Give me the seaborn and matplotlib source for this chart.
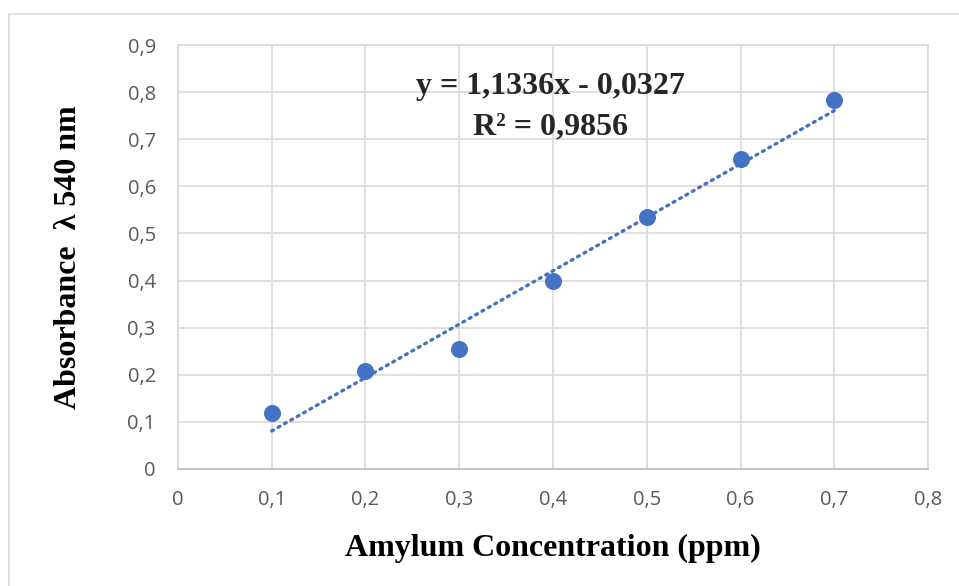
import numpy as np
import matplotlib
matplotlib.use("Agg")
import matplotlib.pyplot as plt
import seaborn as sns
import pandas as pd
from matplotlib.patches import Rectangle
from matplotlib.ticker import FuncFormatter

# data
conc = [0.1, 0.2, 0.3, 0.4, 0.5, 0.6, 0.7]
absorb = [0.118, 0.207, 0.255, 0.400, 0.534, 0.658, 0.783]
slope = 1.1336
intercept = -0.0327

blue = "#4472C4"
grid_c = "#D9D9D9"

sns.set_style("white")
plt.rcParams['font.family'] = ['Open Sans', 'DejaVu Sans']

df = pd.DataFrame({"x": conc, "y": absorb})

fig = plt.figure(figsize=(9.59, 5.86), dpi=100)
ax = fig.add_axes([0.1856, 0.1997, 0.9677 - 0.1856, 0.9232 - 0.1997])

# outer chart frame
fig.patches.append(Rectangle((9 / 959, -0.1), 1.2, 1 - 14 / 586 + 0.1,
                             transform=fig.transFigure, fill=False,
                             edgecolor=grid_c, lw=1.2))

# trendline (dotted)
xs = np.array([min(conc), max(conc)])
ax.plot(xs, slope * xs + intercept, color=blue, lw=2.4, ls=(0, (0.6, 1.6)),
        dash_capstyle="round", zorder=3)

sns.scatterplot(data=df, x="x", y="y", ax=ax, color=blue, s=150,
                edgecolor=blue, linewidth=0, zorder=4, legend=False)

ax.set_xlim(0, 0.8)
ax.set_ylim(0, 0.9)
ax.set_xticks(np.arange(0, 0.81, 0.1))
ax.set_yticks(np.arange(0, 0.91, 0.1))
fmt = FuncFormatter(lambda v, p: "0" if abs(v) < 1e-9 else f"{v:.1f}".replace(".", ","))
ax.xaxis.set_major_formatter(fmt)
ax.yaxis.set_major_formatter(fmt)
ax.grid(True, color=grid_c, lw=1.2)
ax.set_axisbelow(True)
for s in ax.spines.values():
    s.set_color(grid_c)
    s.set_linewidth(1.2)
ax.spines['bottom'].set_color("#BFBFBF")
ax.tick_params(length=0, labelsize=14.5, colors="#595959")
ax.tick_params(axis='y', pad=16)
ax.tick_params(axis='x', pad=15)

ax.set_xlabel("Amylum Concentration (ppm)", family="Liberation Serif",
              fontweight="bold", fontsize=23, color="black", labelpad=17)
ax.set_ylabel("Absorbance  λ 540 nm", family="Liberation Serif",
              fontweight="bold", fontsize=23, color="black", labelpad=32)

ax.text(0.397, 0.8115, "y = 1,1336x - 0,0327", ha="center", va="center",
        family="Liberation Serif", fontweight="bold", fontsize=23, zorder=5)
ax.text(0.397, 0.7265, "R² = 0,9856", ha="center", va="center",
        family="Liberation Serif", fontweight="bold", fontsize=23, zorder=5)

fig.savefig("out.png", dpi=100)
